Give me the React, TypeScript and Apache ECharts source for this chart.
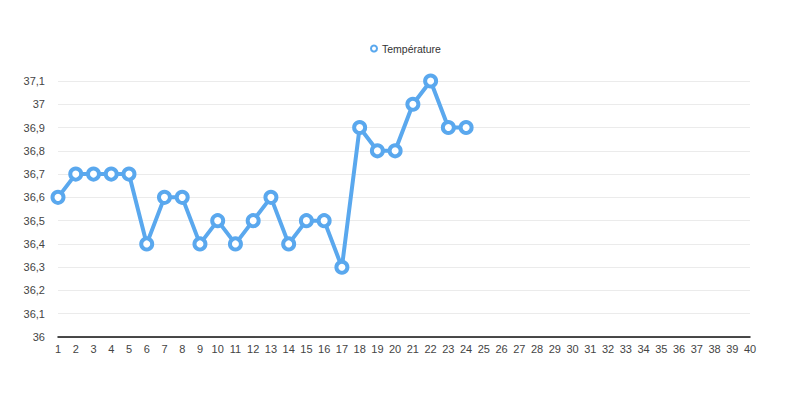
import React, { useEffect, useRef } from "react";
import * as echarts from "echarts";

const categories: string[] = Array.from({ length: 40 }, (_, i) => String(i + 1));
const temperature: (number | null)[] = [
  36.6, 36.7, 36.7, 36.7, 36.7, 36.4, 36.6, 36.6, 36.4, 36.5,
  36.4, 36.5, 36.6, 36.4, 36.5, 36.5, 36.3, 36.9, 36.8, 36.8,
  37.0, 37.1, 36.9, 36.9,
];
const seriesName = "Température";

export default function App() {
  const ref = useRef<HTMLDivElement>(null);
  useEffect(() => {
    if (!ref.current) return;
    const chart = echarts.init(ref.current, undefined, { renderer: "svg" });
    const font = "'Liberation Sans', Arial, Helvetica, sans-serif";
    const blue = "#5aa8ee";
    chart.setOption({
      animation: false,
      textStyle: { fontFamily: font },
      legend: {
        top: 30,
        left: 357,
        itemWidth: 6,
        itemHeight: 6,
        itemGap: 6,
        itemStyle: { color: "#fff", borderColor: blue, borderWidth: 2 },
        textStyle: { fontSize: 10.5, color: "#333", fontFamily: font },
        data: [{ name: seriesName, icon: "circle" }],
      },
      grid: { left: 50, right: 42, top: 73, bottom: 64, containLabel: false },
      xAxis: {
        type: "category",
        data: categories,
        boundaryGap: false,
        axisLine: { lineStyle: { color: "#111", width: 1.5 } },
        axisTick: { show: false },
        axisLabel: { interval: 0, fontSize: 11, color: "#444", margin: 6, fontFamily: font },
        splitLine: { show: false },
      },
      yAxis: {
        type: "value",
        min: 36,
        max: 37.1,
        interval: 0.1,
        axisLine: { show: false },
        axisTick: { show: false },
        axisLabel: {
          fontSize: 11,
          color: "#444",
          margin: 13,
          fontFamily: font,
          formatter: (v: number) => {
            const r = Math.round(v * 10) / 10;
            return String(r).replace(".", ",");
          },
        },
        splitLine: { lineStyle: { color: "#ebebeb", width: 1 } },
      },
      series: [
        {
          name: seriesName,
          type: "line",
          data: temperature,
          symbol: "circle",
          symbolSize: 11,
          showAllSymbol: true,
          lineStyle: { color: blue, width: 4 },
          itemStyle: { color: "#fff", borderColor: blue, borderWidth: 4 },
        },
      ],
    });
    return () => chart.dispose();
  }, []);
  return <div ref={ref} style={{ width: 784, height: 393 }} />;
}
